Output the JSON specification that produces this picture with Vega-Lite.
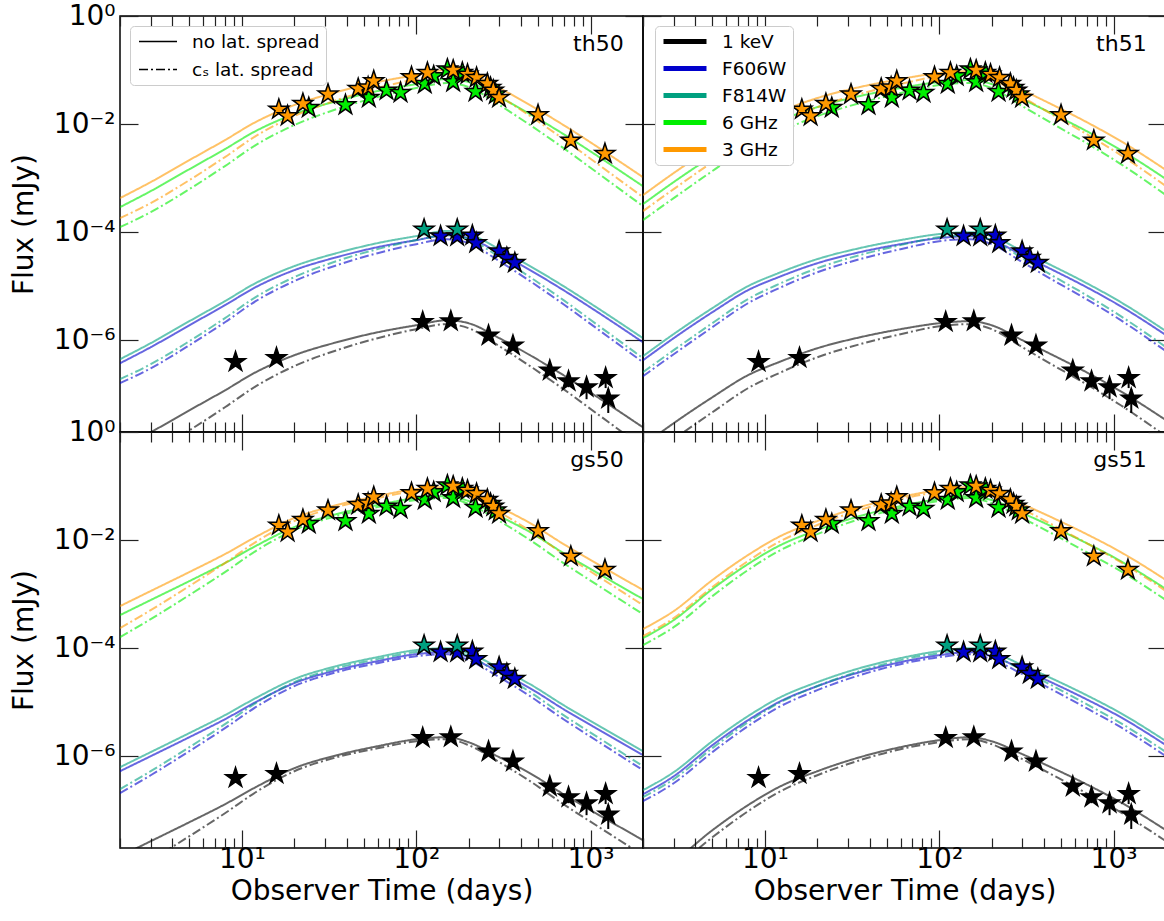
{
"$schema":"https://vega.github.io/schema/vega-lite/v6.json",
"padding":{"left":9,"top":1,"right":0,"bottom":6},
"datasets":{
"th50":[
{"b":"3 GHz","s":"n","t":2,"f":4.26e-4},{"b":"3 GHz","s":"n","t":3,"f":8.43e-4},{"b":"3 GHz","s":"n","t":5,"f":2.15e-3},{"b":"3 GHz","s":"n","t":8,"f":5.05e-3},{"b":"3 GHz","s":"n","t":12,"f":1.09e-2},{"b":"3 GHz","s":"n","t":20,"f":2.25e-2},{"b":"3 GHz","s":"n","t":35,"f":3.91e-2},{"b":"3 GHz","s":"n","t":60,"f":5.99e-2},{"b":"3 GHz","s":"n","t":100,"f":8.08e-2},{"b":"3 GHz","s":"n","t":150,"f":1.00e-1},{"b":"3 GHz","s":"n","t":200,"f":8.80e-2},{"b":"3 GHz","s":"n","t":300,"f":4.64e-2},{"b":"3 GHz","s":"n","t":450,"f":2.25e-2},{"b":"3 GHz","s":"n","t":700,"f":9.58e-3},{"b":"3 GHz","s":"n","t":1100,"f":3.75e-3},{"b":"3 GHz","s":"n","t":2000,"f":1.04e-3},
{"b":"6 GHz","s":"n","t":2,"f":2.90e-4},{"b":"6 GHz","s":"n","t":3,"f":5.74e-4},{"b":"6 GHz","s":"n","t":5,"f":1.46e-3},{"b":"6 GHz","s":"n","t":8,"f":3.44e-3},{"b":"6 GHz","s":"n","t":12,"f":7.42e-3},{"b":"6 GHz","s":"n","t":20,"f":1.53e-2},{"b":"6 GHz","s":"n","t":35,"f":2.66e-2},{"b":"6 GHz","s":"n","t":60,"f":4.08e-2},{"b":"6 GHz","s":"n","t":100,"f":5.50e-2},{"b":"6 GHz","s":"n","t":150,"f":6.81e-2},{"b":"6 GHz","s":"n","t":200,"f":5.99e-2},{"b":"6 GHz","s":"n","t":300,"f":3.16e-2},{"b":"6 GHz","s":"n","t":450,"f":1.53e-2},{"b":"6 GHz","s":"n","t":700,"f":6.52e-3},{"b":"6 GHz","s":"n","t":1100,"f":2.55e-3},{"b":"6 GHz","s":"n","t":2000,"f":7.08e-4},
{"b":"F814W","s":"n","t":2,"f":4.45e-7},{"b":"F814W","s":"n","t":3,"f":8.81e-7},{"b":"F814W","s":"n","t":5,"f":2.25e-6},{"b":"F814W","s":"n","t":8,"f":5.28e-6},{"b":"F814W","s":"n","t":12,"f":1.14e-5},{"b":"F814W","s":"n","t":20,"f":2.35e-5},{"b":"F814W","s":"n","t":35,"f":4.09e-5},{"b":"F814W","s":"n","t":60,"f":6.26e-5},{"b":"F814W","s":"n","t":100,"f":8.44e-5},{"b":"F814W","s":"n","t":150,"f":1.05e-4},{"b":"F814W","s":"n","t":200,"f":9.20e-5},{"b":"F814W","s":"n","t":300,"f":4.85e-5},{"b":"F814W","s":"n","t":450,"f":2.35e-5},{"b":"F814W","s":"n","t":700,"f":1.00e-5},{"b":"F814W","s":"n","t":1100,"f":3.92e-6},{"b":"F814W","s":"n","t":2000,"f":1.09e-6},
{"b":"F606W","s":"n","t":2,"f":3.74e-7},{"b":"F606W","s":"n","t":3,"f":7.41e-7},{"b":"F606W","s":"n","t":5,"f":1.89e-6},{"b":"F606W","s":"n","t":8,"f":4.44e-6},{"b":"F606W","s":"n","t":12,"f":9.58e-6},{"b":"F606W","s":"n","t":20,"f":1.98e-5},{"b":"F606W","s":"n","t":35,"f":3.44e-5},{"b":"F606W","s":"n","t":60,"f":5.27e-5},{"b":"F606W","s":"n","t":100,"f":7.10e-5},{"b":"F606W","s":"n","t":150,"f":8.79e-5},{"b":"F606W","s":"n","t":200,"f":7.74e-5},{"b":"F606W","s":"n","t":300,"f":4.08e-5},{"b":"F606W","s":"n","t":450,"f":1.98e-5},{"b":"F606W","s":"n","t":700,"f":8.42e-6},{"b":"F606W","s":"n","t":1100,"f":3.30e-6},{"b":"F606W","s":"n","t":2000,"f":9.14e-7},
{"b":"1 keV","s":"n","t":2,"f":1.00e-8},{"b":"1 keV","s":"n","t":3,"f":1.98e-8},{"b":"1 keV","s":"n","t":5,"f":5.04e-8},{"b":"1 keV","s":"n","t":8,"f":1.18e-7},{"b":"1 keV","s":"n","t":12,"f":2.55e-7},{"b":"1 keV","s":"n","t":20,"f":5.27e-7},{"b":"1 keV","s":"n","t":35,"f":9.16e-7},{"b":"1 keV","s":"n","t":60,"f":1.40e-6},{"b":"1 keV","s":"n","t":100,"f":1.89e-6},{"b":"1 keV","s":"n","t":150,"f":2.34e-6},{"b":"1 keV","s":"n","t":200,"f":2.06e-6},{"b":"1 keV","s":"n","t":300,"f":1.09e-6},{"b":"1 keV","s":"n","t":450,"f":5.27e-7},{"b":"1 keV","s":"n","t":700,"f":2.25e-7},{"b":"1 keV","s":"n","t":1100,"f":8.79e-8},{"b":"1 keV","s":"n","t":2000,"f":2.44e-8},
{"b":"3 GHz","s":"c","t":2,"f":1.82e-4},{"b":"3 GHz","s":"c","t":3,"f":3.44e-4},{"b":"3 GHz","s":"c","t":5,"f":9.18e-4},{"b":"3 GHz","s":"c","t":8,"f":2.45e-3},{"b":"3 GHz","s":"c","t":12,"f":5.99e-3},{"b":"3 GHz","s":"c","t":20,"f":1.41e-2},{"b":"3 GHz","s":"c","t":35,"f":2.78e-2},{"b":"3 GHz","s":"c","t":60,"f":4.64e-2},{"b":"3 GHz","s":"c","t":100,"f":6.81e-2},{"b":"3 GHz","s":"c","t":150,"f":8.43e-2},{"b":"3 GHz","s":"c","t":200,"f":7.11e-2},{"b":"3 GHz","s":"c","t":300,"f":3.30e-2},{"b":"3 GHz","s":"c","t":450,"f":1.41e-2},{"b":"3 GHz","s":"c","t":700,"f":5.27e-3},{"b":"3 GHz","s":"c","t":1100,"f":1.82e-3},{"b":"3 GHz","s":"c","t":2000,"f":4.45e-4},
{"b":"6 GHz","s":"c","t":2,"f":1.24e-4},{"b":"6 GHz","s":"c","t":3,"f":2.34e-4},{"b":"6 GHz","s":"c","t":5,"f":6.25e-4},{"b":"6 GHz","s":"c","t":8,"f":1.67e-3},{"b":"6 GHz","s":"c","t":12,"f":4.08e-3},{"b":"6 GHz","s":"c","t":20,"f":9.60e-3},{"b":"6 GHz","s":"c","t":35,"f":1.89e-2},{"b":"6 GHz","s":"c","t":60,"f":3.16e-2},{"b":"6 GHz","s":"c","t":100,"f":4.64e-2},{"b":"6 GHz","s":"c","t":150,"f":5.74e-2},{"b":"6 GHz","s":"c","t":200,"f":4.84e-2},{"b":"6 GHz","s":"c","t":300,"f":2.25e-2},{"b":"6 GHz","s":"c","t":450,"f":9.60e-3},{"b":"6 GHz","s":"c","t":700,"f":3.59e-3},{"b":"6 GHz","s":"c","t":1100,"f":1.24e-3},{"b":"6 GHz","s":"c","t":2000,"f":3.03e-4},
{"b":"F814W","s":"c","t":2,"f":1.90e-7},{"b":"F814W","s":"c","t":3,"f":3.59e-7},{"b":"F814W","s":"c","t":5,"f":9.59e-7},{"b":"F814W","s":"c","t":8,"f":2.56e-6},{"b":"F814W","s":"c","t":12,"f":6.26e-6},{"b":"F814W","s":"c","t":20,"f":1.47e-5},{"b":"F814W","s":"c","t":35,"f":2.91e-5},{"b":"F814W","s":"c","t":60,"f":4.85e-5},{"b":"F814W","s":"c","t":100,"f":7.12e-5},{"b":"F814W","s":"c","t":150,"f":8.81e-5},{"b":"F814W","s":"c","t":200,"f":7.43e-5},{"b":"F814W","s":"c","t":300,"f":3.45e-5},{"b":"F814W","s":"c","t":450,"f":1.47e-5},{"b":"F814W","s":"c","t":700,"f":5.51e-6},{"b":"F814W","s":"c","t":1100,"f":1.90e-6},{"b":"F814W","s":"c","t":2000,"f":4.65e-7},
{"b":"F606W","s":"c","t":2,"f":1.60e-7},{"b":"F606W","s":"c","t":3,"f":3.02e-7},{"b":"F606W","s":"c","t":5,"f":8.07e-7},{"b":"F606W","s":"c","t":8,"f":2.15e-6},{"b":"F606W","s":"c","t":12,"f":5.27e-6},{"b":"F606W","s":"c","t":20,"f":1.24e-5},{"b":"F606W","s":"c","t":35,"f":2.44e-5},{"b":"F606W","s":"c","t":60,"f":4.08e-5},{"b":"F606W","s":"c","t":100,"f":5.99e-5},{"b":"F606W","s":"c","t":150,"f":7.41e-5},{"b":"F606W","s":"c","t":200,"f":6.25e-5},{"b":"F606W","s":"c","t":300,"f":2.90e-5},{"b":"F606W","s":"c","t":450,"f":1.24e-5},{"b":"F606W","s":"c","t":700,"f":4.63e-6},{"b":"F606W","s":"c","t":1100,"f":1.60e-6},{"b":"F606W","s":"c","t":2000,"f":3.91e-7},
{"b":"1 keV","s":"c","t":2,"f":4.27e-9},{"b":"1 keV","s":"c","t":3,"f":8.06e-9},{"b":"1 keV","s":"c","t":5,"f":2.15e-8},{"b":"1 keV","s":"c","t":8,"f":5.74e-8},{"b":"1 keV","s":"c","t":12,"f":1.40e-7},{"b":"1 keV","s":"c","t":20,"f":3.31e-7},{"b":"1 keV","s":"c","t":35,"f":6.52e-7},{"b":"1 keV","s":"c","t":60,"f":1.09e-6},{"b":"1 keV","s":"c","t":100,"f":1.60e-6},{"b":"1 keV","s":"c","t":150,"f":1.98e-6},{"b":"1 keV","s":"c","t":200,"f":1.67e-6},{"b":"1 keV","s":"c","t":300,"f":7.74e-7},{"b":"1 keV","s":"c","t":450,"f":3.31e-7},{"b":"1 keV","s":"c","t":700,"f":1.24e-7},{"b":"1 keV","s":"c","t":1100,"f":4.27e-8},{"b":"1 keV","s":"c","t":2000,"f":1.04e-8}
],
"th51":[
{"b":"3 GHz","s":"n","t":2,"f":4.84e-4},{"b":"3 GHz","s":"n","t":3,"f":1.24e-3},{"b":"3 GHz","s":"n","t":5,"f":3.75e-3},{"b":"3 GHz","s":"n","t":8,"f":9.58e-3},{"b":"3 GHz","s":"n","t":12,"f":1.67e-2},{"b":"3 GHz","s":"n","t":20,"f":3.03e-2},{"b":"3 GHz","s":"n","t":35,"f":4.84e-2},{"b":"3 GHz","s":"n","t":60,"f":6.81e-2},{"b":"3 GHz","s":"n","t":100,"f":8.80e-2},{"b":"3 GHz","s":"n","t":150,"f":9.58e-2},{"b":"3 GHz","s":"n","t":200,"f":8.08e-2},{"b":"3 GHz","s":"n","t":300,"f":4.26e-2},{"b":"3 GHz","s":"n","t":450,"f":2.25e-2},{"b":"3 GHz","s":"n","t":700,"f":1.09e-2},{"b":"3 GHz","s":"n","t":1100,"f":4.84e-3},{"b":"3 GHz","s":"n","t":2000,"f":1.41e-3},
{"b":"6 GHz","s":"n","t":2,"f":3.30e-4},{"b":"6 GHz","s":"n","t":3,"f":8.44e-4},{"b":"6 GHz","s":"n","t":5,"f":2.55e-3},{"b":"6 GHz","s":"n","t":8,"f":6.52e-3},{"b":"6 GHz","s":"n","t":12,"f":1.14e-2},{"b":"6 GHz","s":"n","t":20,"f":2.06e-2},{"b":"6 GHz","s":"n","t":35,"f":3.30e-2},{"b":"6 GHz","s":"n","t":60,"f":4.64e-2},{"b":"6 GHz","s":"n","t":100,"f":5.99e-2},{"b":"6 GHz","s":"n","t":150,"f":6.52e-2},{"b":"6 GHz","s":"n","t":200,"f":5.50e-2},{"b":"6 GHz","s":"n","t":300,"f":2.90e-2},{"b":"6 GHz","s":"n","t":450,"f":1.53e-2},{"b":"6 GHz","s":"n","t":700,"f":7.42e-3},{"b":"6 GHz","s":"n","t":1100,"f":3.30e-3},{"b":"6 GHz","s":"n","t":2000,"f":9.60e-4},
{"b":"F814W","s":"n","t":2,"f":5.06e-7},{"b":"F814W","s":"n","t":3,"f":1.30e-6},{"b":"F814W","s":"n","t":5,"f":3.92e-6},{"b":"F814W","s":"n","t":8,"f":1.00e-5},{"b":"F814W","s":"n","t":12,"f":1.75e-5},{"b":"F814W","s":"n","t":20,"f":3.17e-5},{"b":"F814W","s":"n","t":35,"f":5.06e-5},{"b":"F814W","s":"n","t":60,"f":7.12e-5},{"b":"F814W","s":"n","t":100,"f":9.20e-5},{"b":"F814W","s":"n","t":150,"f":1.00e-4},{"b":"F814W","s":"n","t":200,"f":8.44e-5},{"b":"F814W","s":"n","t":300,"f":4.45e-5},{"b":"F814W","s":"n","t":450,"f":2.35e-5},{"b":"F814W","s":"n","t":700,"f":1.14e-5},{"b":"F814W","s":"n","t":1100,"f":5.06e-6},{"b":"F814W","s":"n","t":2000,"f":1.47e-6},
{"b":"F606W","s":"n","t":2,"f":4.25e-7},{"b":"F606W","s":"n","t":3,"f":1.09e-6},{"b":"F606W","s":"n","t":5,"f":3.30e-6},{"b":"F606W","s":"n","t":8,"f":8.42e-6},{"b":"F606W","s":"n","t":12,"f":1.47e-5},{"b":"F606W","s":"n","t":20,"f":2.66e-5},{"b":"F606W","s":"n","t":35,"f":4.25e-5},{"b":"F606W","s":"n","t":60,"f":5.99e-5},{"b":"F606W","s":"n","t":100,"f":7.74e-5},{"b":"F606W","s":"n","t":150,"f":8.42e-5},{"b":"F606W","s":"n","t":200,"f":7.10e-5},{"b":"F606W","s":"n","t":300,"f":3.74e-5},{"b":"F606W","s":"n","t":450,"f":1.98e-5},{"b":"F606W","s":"n","t":700,"f":9.58e-6},{"b":"F606W","s":"n","t":1100,"f":4.25e-6},{"b":"F606W","s":"n","t":2000,"f":1.24e-6},
{"b":"1 keV","s":"n","t":2,"f":1.13e-8},{"b":"1 keV","s":"n","t":3,"f":2.91e-8},{"b":"1 keV","s":"n","t":5,"f":8.79e-8},{"b":"1 keV","s":"n","t":8,"f":2.25e-7},{"b":"1 keV","s":"n","t":12,"f":3.91e-7},{"b":"1 keV","s":"n","t":20,"f":7.10e-7},{"b":"1 keV","s":"n","t":35,"f":1.13e-6},{"b":"1 keV","s":"n","t":60,"f":1.60e-6},{"b":"1 keV","s":"n","t":100,"f":2.06e-6},{"b":"1 keV","s":"n","t":150,"f":2.25e-6},{"b":"1 keV","s":"n","t":200,"f":1.89e-6},{"b":"1 keV","s":"n","t":300,"f":1.00e-6},{"b":"1 keV","s":"n","t":450,"f":5.27e-7},{"b":"1 keV","s":"n","t":700,"f":2.55e-7},{"b":"1 keV","s":"n","t":1100,"f":1.13e-7},{"b":"1 keV","s":"n","t":2000,"f":3.31e-8},
{"b":"3 GHz","s":"c","t":2,"f":2.45e-4},{"b":"3 GHz","s":"c","t":3,"f":6.26e-4},{"b":"3 GHz","s":"c","t":5,"f":1.98e-3},{"b":"3 GHz","s":"c","t":8,"f":5.50e-3},{"b":"3 GHz","s":"c","t":12,"f":1.04e-2},{"b":"3 GHz","s":"c","t":20,"f":2.06e-2},{"b":"3 GHz","s":"c","t":35,"f":3.59e-2},{"b":"3 GHz","s":"c","t":60,"f":5.50e-2},{"b":"3 GHz","s":"c","t":100,"f":7.74e-2},{"b":"3 GHz","s":"c","t":150,"f":8.43e-2},{"b":"3 GHz","s":"c","t":200,"f":6.81e-2},{"b":"3 GHz","s":"c","t":300,"f":3.16e-2},{"b":"3 GHz","s":"c","t":450,"f":1.47e-2},{"b":"3 GHz","s":"c","t":700,"f":6.53e-3},{"b":"3 GHz","s":"c","t":1100,"f":2.67e-3},{"b":"3 GHz","s":"c","t":2000,"f":7.11e-4},
{"b":"6 GHz","s":"c","t":2,"f":1.67e-4},{"b":"6 GHz","s":"c","t":3,"f":4.26e-4},{"b":"6 GHz","s":"c","t":5,"f":1.35e-3},{"b":"6 GHz","s":"c","t":8,"f":3.75e-3},{"b":"6 GHz","s":"c","t":12,"f":7.08e-3},{"b":"6 GHz","s":"c","t":20,"f":1.40e-2},{"b":"6 GHz","s":"c","t":35,"f":2.44e-2},{"b":"6 GHz","s":"c","t":60,"f":3.75e-2},{"b":"6 GHz","s":"c","t":100,"f":5.27e-2},{"b":"6 GHz","s":"c","t":150,"f":5.74e-2},{"b":"6 GHz","s":"c","t":200,"f":4.64e-2},{"b":"6 GHz","s":"c","t":300,"f":2.15e-2},{"b":"6 GHz","s":"c","t":450,"f":1.00e-2},{"b":"6 GHz","s":"c","t":700,"f":4.45e-3},{"b":"6 GHz","s":"c","t":1100,"f":1.82e-3},{"b":"6 GHz","s":"c","t":2000,"f":4.84e-4},
{"b":"F814W","s":"c","t":2,"f":2.56e-7},{"b":"F814W","s":"c","t":3,"f":6.54e-7},{"b":"F814W","s":"c","t":5,"f":2.07e-6},{"b":"F814W","s":"c","t":8,"f":5.75e-6},{"b":"F814W","s":"c","t":12,"f":1.09e-5},{"b":"F814W","s":"c","t":20,"f":2.15e-5},{"b":"F814W","s":"c","t":35,"f":3.75e-5},{"b":"F814W","s":"c","t":60,"f":5.75e-5},{"b":"F814W","s":"c","t":100,"f":8.09e-5},{"b":"F814W","s":"c","t":150,"f":8.81e-5},{"b":"F814W","s":"c","t":200,"f":7.12e-5},{"b":"F814W","s":"c","t":300,"f":3.30e-5},{"b":"F814W","s":"c","t":450,"f":1.54e-5},{"b":"F814W","s":"c","t":700,"f":6.82e-6},{"b":"F814W","s":"c","t":1100,"f":2.79e-6},{"b":"F814W","s":"c","t":2000,"f":7.43e-7},
{"b":"F606W","s":"c","t":2,"f":2.15e-7},{"b":"F606W","s":"c","t":3,"f":5.50e-7},{"b":"F606W","s":"c","t":5,"f":1.74e-6},{"b":"F606W","s":"c","t":8,"f":4.83e-6},{"b":"F606W","s":"c","t":12,"f":9.14e-6},{"b":"F606W","s":"c","t":20,"f":1.81e-5},{"b":"F606W","s":"c","t":35,"f":3.16e-5},{"b":"F606W","s":"c","t":60,"f":4.83e-5},{"b":"F606W","s":"c","t":100,"f":6.80e-5},{"b":"F606W","s":"c","t":150,"f":7.41e-5},{"b":"F606W","s":"c","t":200,"f":5.99e-5},{"b":"F606W","s":"c","t":300,"f":2.78e-5},{"b":"F606W","s":"c","t":450,"f":1.29e-5},{"b":"F606W","s":"c","t":700,"f":5.74e-6},{"b":"F606W","s":"c","t":1100,"f":2.35e-6},{"b":"F606W","s":"c","t":2000,"f":6.25e-7},
{"b":"1 keV","s":"c","t":2,"f":5.74e-9},{"b":"1 keV","s":"c","t":3,"f":1.47e-8},{"b":"1 keV","s":"c","t":5,"f":4.64e-8},{"b":"1 keV","s":"c","t":8,"f":1.29e-7},{"b":"1 keV","s":"c","t":12,"f":2.44e-7},{"b":"1 keV","s":"c","t":20,"f":4.83e-7},{"b":"1 keV","s":"c","t":35,"f":8.41e-7},{"b":"1 keV","s":"c","t":60,"f":1.29e-6},{"b":"1 keV","s":"c","t":100,"f":1.81e-6},{"b":"1 keV","s":"c","t":150,"f":1.98e-6},{"b":"1 keV","s":"c","t":200,"f":1.60e-6},{"b":"1 keV","s":"c","t":300,"f":7.41e-7},{"b":"1 keV","s":"c","t":450,"f":3.45e-7},{"b":"1 keV","s":"c","t":700,"f":1.53e-7},{"b":"1 keV","s":"c","t":1100,"f":6.26e-8},{"b":"1 keV","s":"c","t":2000,"f":1.67e-8}
],
"gs50":[
{"b":"3 GHz","s":"n","t":2,"f":5.99e-4},{"b":"3 GHz","s":"n","t":3,"f":1.14e-3},{"b":"3 GHz","s":"n","t":5,"f":2.56e-3},{"b":"3 GHz","s":"n","t":8,"f":5.50e-3},{"b":"3 GHz","s":"n","t":12,"f":1.14e-2},{"b":"3 GHz","s":"n","t":20,"f":2.56e-2},{"b":"3 GHz","s":"n","t":35,"f":4.45e-2},{"b":"3 GHz","s":"n","t":60,"f":6.53e-2},{"b":"3 GHz","s":"n","t":100,"f":8.80e-2},{"b":"3 GHz","s":"n","t":150,"f":9.58e-2},{"b":"3 GHz","s":"n","t":200,"f":7.74e-2},{"b":"3 GHz","s":"n","t":300,"f":4.08e-2},{"b":"3 GHz","s":"n","t":450,"f":2.06e-2},{"b":"3 GHz","s":"n","t":700,"f":8.43e-3},{"b":"3 GHz","s":"n","t":1100,"f":3.59e-3},{"b":"3 GHz","s":"n","t":2000,"f":1.19e-3},
{"b":"6 GHz","s":"n","t":2,"f":4.08e-4},{"b":"6 GHz","s":"n","t":3,"f":7.76e-4},{"b":"6 GHz","s":"n","t":5,"f":1.74e-3},{"b":"6 GHz","s":"n","t":8,"f":3.75e-3},{"b":"6 GHz","s":"n","t":12,"f":7.76e-3},{"b":"6 GHz","s":"n","t":20,"f":1.74e-2},{"b":"6 GHz","s":"n","t":35,"f":3.03e-2},{"b":"6 GHz","s":"n","t":60,"f":4.45e-2},{"b":"6 GHz","s":"n","t":100,"f":5.99e-2},{"b":"6 GHz","s":"n","t":150,"f":6.52e-2},{"b":"6 GHz","s":"n","t":200,"f":5.27e-2},{"b":"6 GHz","s":"n","t":300,"f":2.78e-2},{"b":"6 GHz","s":"n","t":450,"f":1.40e-2},{"b":"6 GHz","s":"n","t":700,"f":5.74e-3},{"b":"6 GHz","s":"n","t":1100,"f":2.44e-3},{"b":"6 GHz","s":"n","t":2000,"f":8.10e-4},
{"b":"F814W","s":"n","t":2,"f":6.26e-7},{"b":"F814W","s":"n","t":3,"f":1.19e-6},{"b":"F814W","s":"n","t":5,"f":2.68e-6},{"b":"F814W","s":"n","t":8,"f":5.75e-6},{"b":"F814W","s":"n","t":12,"f":1.19e-5},{"b":"F814W","s":"n","t":20,"f":2.68e-5},{"b":"F814W","s":"n","t":35,"f":4.65e-5},{"b":"F814W","s":"n","t":60,"f":6.82e-5},{"b":"F814W","s":"n","t":100,"f":9.20e-5},{"b":"F814W","s":"n","t":150,"f":1.00e-4},{"b":"F814W","s":"n","t":200,"f":8.09e-5},{"b":"F814W","s":"n","t":300,"f":4.26e-5},{"b":"F814W","s":"n","t":450,"f":2.15e-5},{"b":"F814W","s":"n","t":700,"f":8.81e-6},{"b":"F814W","s":"n","t":1100,"f":3.75e-6},{"b":"F814W","s":"n","t":2000,"f":1.24e-6},
{"b":"F606W","s":"n","t":2,"f":5.27e-7},{"b":"F606W","s":"n","t":3,"f":1.00e-6},{"b":"F606W","s":"n","t":5,"f":2.25e-6},{"b":"F606W","s":"n","t":8,"f":4.83e-6},{"b":"F606W","s":"n","t":12,"f":1.00e-5},{"b":"F606W","s":"n","t":20,"f":2.25e-5},{"b":"F606W","s":"n","t":35,"f":3.91e-5},{"b":"F606W","s":"n","t":60,"f":5.74e-5},{"b":"F606W","s":"n","t":100,"f":7.74e-5},{"b":"F606W","s":"n","t":150,"f":8.42e-5},{"b":"F606W","s":"n","t":200,"f":6.80e-5},{"b":"F606W","s":"n","t":300,"f":3.59e-5},{"b":"F606W","s":"n","t":450,"f":1.81e-5},{"b":"F606W","s":"n","t":700,"f":7.41e-6},{"b":"F606W","s":"n","t":1100,"f":3.16e-6},{"b":"F606W","s":"n","t":2000,"f":1.05e-6},
{"b":"1 keV","s":"n","t":2,"f":1.40e-8},{"b":"1 keV","s":"n","t":3,"f":2.67e-8},{"b":"1 keV","s":"n","t":5,"f":6.00e-8},{"b":"1 keV","s":"n","t":8,"f":1.29e-7},{"b":"1 keV","s":"n","t":12,"f":2.67e-7},{"b":"1 keV","s":"n","t":20,"f":6.00e-7},{"b":"1 keV","s":"n","t":35,"f":1.04e-6},{"b":"1 keV","s":"n","t":60,"f":1.53e-6},{"b":"1 keV","s":"n","t":100,"f":2.06e-6},{"b":"1 keV","s":"n","t":150,"f":2.25e-6},{"b":"1 keV","s":"n","t":200,"f":1.81e-6},{"b":"1 keV","s":"n","t":300,"f":9.56e-7},{"b":"1 keV","s":"n","t":450,"f":4.83e-7},{"b":"1 keV","s":"n","t":700,"f":1.98e-7},{"b":"1 keV","s":"n","t":1100,"f":8.41e-8},{"b":"1 keV","s":"n","t":2000,"f":2.79e-8},
{"b":"3 GHz","s":"c","t":2,"f":2.35e-4},{"b":"3 GHz","s":"c","t":3,"f":5.05e-4},{"b":"3 GHz","s":"c","t":5,"f":1.41e-3},{"b":"3 GHz","s":"c","t":8,"f":3.75e-3},{"b":"3 GHz","s":"c","t":12,"f":9.18e-3},{"b":"3 GHz","s":"c","t":20,"f":2.25e-2},{"b":"3 GHz","s":"c","t":35,"f":4.08e-2},{"b":"3 GHz","s":"c","t":60,"f":5.99e-2},{"b":"3 GHz","s":"c","t":100,"f":8.08e-2},{"b":"3 GHz","s":"c","t":150,"f":8.80e-2},{"b":"3 GHz","s":"c","t":200,"f":6.81e-2},{"b":"3 GHz","s":"c","t":300,"f":3.30e-2},{"b":"3 GHz","s":"c","t":450,"f":1.47e-2},{"b":"3 GHz","s":"c","t":700,"f":5.50e-3},{"b":"3 GHz","s":"c","t":1100,"f":2.15e-3},{"b":"3 GHz","s":"c","t":2000,"f":6.26e-4},
{"b":"6 GHz","s":"c","t":2,"f":1.60e-4},{"b":"6 GHz","s":"c","t":3,"f":3.44e-4},{"b":"6 GHz","s":"c","t":5,"f":9.60e-4},{"b":"6 GHz","s":"c","t":8,"f":2.55e-3},{"b":"6 GHz","s":"c","t":12,"f":6.25e-3},{"b":"6 GHz","s":"c","t":20,"f":1.53e-2},{"b":"6 GHz","s":"c","t":35,"f":2.78e-2},{"b":"6 GHz","s":"c","t":60,"f":4.08e-2},{"b":"6 GHz","s":"c","t":100,"f":5.50e-2},{"b":"6 GHz","s":"c","t":150,"f":5.99e-2},{"b":"6 GHz","s":"c","t":200,"f":4.64e-2},{"b":"6 GHz","s":"c","t":300,"f":2.25e-2},{"b":"6 GHz","s":"c","t":450,"f":1.00e-2},{"b":"6 GHz","s":"c","t":700,"f":3.75e-3},{"b":"6 GHz","s":"c","t":1100,"f":1.46e-3},{"b":"6 GHz","s":"c","t":2000,"f":4.26e-4},
{"b":"F814W","s":"c","t":2,"f":2.46e-7},{"b":"F814W","s":"c","t":3,"f":5.28e-7},{"b":"F814W","s":"c","t":5,"f":1.47e-6},{"b":"F814W","s":"c","t":8,"f":3.92e-6},{"b":"F814W","s":"c","t":12,"f":9.59e-6},{"b":"F814W","s":"c","t":20,"f":2.35e-5},{"b":"F814W","s":"c","t":35,"f":4.26e-5},{"b":"F814W","s":"c","t":60,"f":6.26e-5},{"b":"F814W","s":"c","t":100,"f":8.44e-5},{"b":"F814W","s":"c","t":150,"f":9.20e-5},{"b":"F814W","s":"c","t":200,"f":7.12e-5},{"b":"F814W","s":"c","t":300,"f":3.45e-5},{"b":"F814W","s":"c","t":450,"f":1.54e-5},{"b":"F814W","s":"c","t":700,"f":5.75e-6},{"b":"F814W","s":"c","t":1100,"f":2.25e-6},{"b":"F814W","s":"c","t":2000,"f":6.54e-7},
{"b":"F606W","s":"c","t":2,"f":2.07e-7},{"b":"F606W","s":"c","t":3,"f":4.44e-7},{"b":"F606W","s":"c","t":5,"f":1.24e-6},{"b":"F606W","s":"c","t":8,"f":3.30e-6},{"b":"F606W","s":"c","t":12,"f":8.07e-6},{"b":"F606W","s":"c","t":20,"f":1.98e-5},{"b":"F606W","s":"c","t":35,"f":3.59e-5},{"b":"F606W","s":"c","t":60,"f":5.27e-5},{"b":"F606W","s":"c","t":100,"f":7.10e-5},{"b":"F606W","s":"c","t":150,"f":7.74e-5},{"b":"F606W","s":"c","t":200,"f":5.99e-5},{"b":"F606W","s":"c","t":300,"f":2.90e-5},{"b":"F606W","s":"c","t":450,"f":1.29e-5},{"b":"F606W","s":"c","t":700,"f":4.83e-6},{"b":"F606W","s":"c","t":1100,"f":1.89e-6},{"b":"F606W","s":"c","t":2000,"f":5.50e-7},
{"b":"1 keV","s":"c","t":2,"f":5.51e-9},{"b":"1 keV","s":"c","t":3,"f":1.18e-8},{"b":"1 keV","s":"c","t":5,"f":3.31e-8},{"b":"1 keV","s":"c","t":8,"f":8.79e-8},{"b":"1 keV","s":"c","t":12,"f":2.15e-7},{"b":"1 keV","s":"c","t":20,"f":5.27e-7},{"b":"1 keV","s":"c","t":35,"f":9.56e-7},{"b":"1 keV","s":"c","t":60,"f":1.40e-6},{"b":"1 keV","s":"c","t":100,"f":1.89e-6},{"b":"1 keV","s":"c","t":150,"f":2.06e-6},{"b":"1 keV","s":"c","t":200,"f":1.60e-6},{"b":"1 keV","s":"c","t":300,"f":7.74e-7},{"b":"1 keV","s":"c","t":450,"f":3.45e-7},{"b":"1 keV","s":"c","t":700,"f":1.29e-7},{"b":"1 keV","s":"c","t":1100,"f":5.04e-8},{"b":"1 keV","s":"c","t":2000,"f":1.47e-8}
],
"gs51":[
{"b":"3 GHz","s":"n","t":2,"f":2.25e-4},{"b":"3 GHz","s":"n","t":3,"f":4.84e-4},{"b":"3 GHz","s":"n","t":5,"f":1.82e-3},{"b":"3 GHz","s":"n","t":8,"f":5.27e-3},{"b":"3 GHz","s":"n","t":12,"f":1.14e-2},{"b":"3 GHz","s":"n","t":20,"f":2.25e-2},{"b":"3 GHz","s":"n","t":35,"f":4.08e-2},{"b":"3 GHz","s":"n","t":60,"f":6.26e-2},{"b":"3 GHz","s":"n","t":100,"f":8.43e-2},{"b":"3 GHz","s":"n","t":150,"f":9.58e-2},{"b":"3 GHz","s":"n","t":200,"f":8.08e-2},{"b":"3 GHz","s":"n","t":300,"f":4.64e-2},{"b":"3 GHz","s":"n","t":450,"f":2.56e-2},{"b":"3 GHz","s":"n","t":700,"f":1.29e-2},{"b":"3 GHz","s":"n","t":1100,"f":5.99e-3},{"b":"3 GHz","s":"n","t":2000,"f":1.82e-3},
{"b":"6 GHz","s":"n","t":2,"f":1.53e-4},{"b":"6 GHz","s":"n","t":3,"f":3.30e-4},{"b":"6 GHz","s":"n","t":5,"f":1.24e-3},{"b":"6 GHz","s":"n","t":8,"f":3.59e-3},{"b":"6 GHz","s":"n","t":12,"f":7.76e-3},{"b":"6 GHz","s":"n","t":20,"f":1.53e-2},{"b":"6 GHz","s":"n","t":35,"f":2.78e-2},{"b":"6 GHz","s":"n","t":60,"f":4.26e-2},{"b":"6 GHz","s":"n","t":100,"f":5.74e-2},{"b":"6 GHz","s":"n","t":150,"f":6.52e-2},{"b":"6 GHz","s":"n","t":200,"f":5.50e-2},{"b":"6 GHz","s":"n","t":300,"f":3.16e-2},{"b":"6 GHz","s":"n","t":450,"f":1.74e-2},{"b":"6 GHz","s":"n","t":700,"f":8.78e-3},{"b":"6 GHz","s":"n","t":1100,"f":4.08e-3},{"b":"6 GHz","s":"n","t":2000,"f":1.24e-3},
{"b":"F814W","s":"n","t":2,"f":2.35e-7},{"b":"F814W","s":"n","t":3,"f":5.06e-7},{"b":"F814W","s":"n","t":5,"f":1.90e-6},{"b":"F814W","s":"n","t":8,"f":5.51e-6},{"b":"F814W","s":"n","t":12,"f":1.19e-5},{"b":"F814W","s":"n","t":20,"f":2.35e-5},{"b":"F814W","s":"n","t":35,"f":4.26e-5},{"b":"F814W","s":"n","t":60,"f":6.54e-5},{"b":"F814W","s":"n","t":100,"f":8.81e-5},{"b":"F814W","s":"n","t":150,"f":1.00e-4},{"b":"F814W","s":"n","t":200,"f":8.44e-5},{"b":"F814W","s":"n","t":300,"f":4.85e-5},{"b":"F814W","s":"n","t":450,"f":2.68e-5},{"b":"F814W","s":"n","t":700,"f":1.35e-5},{"b":"F814W","s":"n","t":1100,"f":6.26e-6},{"b":"F814W","s":"n","t":2000,"f":1.90e-6},
{"b":"F606W","s":"n","t":2,"f":1.98e-7},{"b":"F606W","s":"n","t":3,"f":4.25e-7},{"b":"F606W","s":"n","t":5,"f":1.60e-6},{"b":"F606W","s":"n","t":8,"f":4.63e-6},{"b":"F606W","s":"n","t":12,"f":1.00e-5},{"b":"F606W","s":"n","t":20,"f":1.98e-5},{"b":"F606W","s":"n","t":35,"f":3.59e-5},{"b":"F606W","s":"n","t":60,"f":5.50e-5},{"b":"F606W","s":"n","t":100,"f":7.41e-5},{"b":"F606W","s":"n","t":150,"f":8.42e-5},{"b":"F606W","s":"n","t":200,"f":7.10e-5},{"b":"F606W","s":"n","t":300,"f":4.08e-5},{"b":"F606W","s":"n","t":450,"f":2.25e-5},{"b":"F606W","s":"n","t":700,"f":1.13e-5},{"b":"F606W","s":"n","t":1100,"f":5.27e-6},{"b":"F606W","s":"n","t":2000,"f":1.60e-6},
{"b":"1 keV","s":"n","t":2,"f":5.27e-9},{"b":"1 keV","s":"n","t":3,"f":1.13e-8},{"b":"1 keV","s":"n","t":5,"f":4.27e-8},{"b":"1 keV","s":"n","t":8,"f":1.24e-7},{"b":"1 keV","s":"n","t":12,"f":2.67e-7},{"b":"1 keV","s":"n","t":20,"f":5.27e-7},{"b":"1 keV","s":"n","t":35,"f":9.56e-7},{"b":"1 keV","s":"n","t":60,"f":1.47e-6},{"b":"1 keV","s":"n","t":100,"f":1.98e-6},{"b":"1 keV","s":"n","t":150,"f":2.25e-6},{"b":"1 keV","s":"n","t":200,"f":1.89e-6},{"b":"1 keV","s":"n","t":300,"f":1.09e-6},{"b":"1 keV","s":"n","t":450,"f":6.00e-7},{"b":"1 keV","s":"n","t":700,"f":3.02e-7},{"b":"1 keV","s":"n","t":1100,"f":1.40e-7},{"b":"1 keV","s":"n","t":2000,"f":4.27e-8},
{"b":"3 GHz","s":"c","t":2,"f":1.67e-4},{"b":"3 GHz","s":"c","t":3,"f":3.59e-4},{"b":"3 GHz","s":"c","t":5,"f":1.35e-3},{"b":"3 GHz","s":"c","t":8,"f":4.08e-3},{"b":"3 GHz","s":"c","t":12,"f":9.18e-3},{"b":"3 GHz","s":"c","t":20,"f":1.90e-2},{"b":"3 GHz","s":"c","t":35,"f":3.59e-2},{"b":"3 GHz","s":"c","t":60,"f":5.74e-2},{"b":"3 GHz","s":"c","t":100,"f":7.74e-2},{"b":"3 GHz","s":"c","t":150,"f":8.80e-2},{"b":"3 GHz","s":"c","t":200,"f":7.11e-2},{"b":"3 GHz","s":"c","t":300,"f":3.75e-2},{"b":"3 GHz","s":"c","t":450,"f":1.90e-2},{"b":"3 GHz","s":"c","t":700,"f":8.80e-3},{"b":"3 GHz","s":"c","t":1100,"f":3.91e-3},{"b":"3 GHz","s":"c","t":2000,"f":1.14e-3},
{"b":"6 GHz","s":"c","t":2,"f":1.14e-4},{"b":"6 GHz","s":"c","t":3,"f":2.44e-4},{"b":"6 GHz","s":"c","t":5,"f":9.19e-4},{"b":"6 GHz","s":"c","t":8,"f":2.78e-3},{"b":"6 GHz","s":"c","t":12,"f":6.25e-3},{"b":"6 GHz","s":"c","t":20,"f":1.29e-2},{"b":"6 GHz","s":"c","t":35,"f":2.44e-2},{"b":"6 GHz","s":"c","t":60,"f":3.91e-2},{"b":"6 GHz","s":"c","t":100,"f":5.27e-2},{"b":"6 GHz","s":"c","t":150,"f":5.99e-2},{"b":"6 GHz","s":"c","t":200,"f":4.84e-2},{"b":"6 GHz","s":"c","t":300,"f":2.55e-2},{"b":"6 GHz","s":"c","t":450,"f":1.29e-2},{"b":"6 GHz","s":"c","t":700,"f":5.99e-3},{"b":"6 GHz","s":"c","t":1100,"f":2.66e-3},{"b":"6 GHz","s":"c","t":2000,"f":7.76e-4},
{"b":"F814W","s":"c","t":2,"f":1.75e-7},{"b":"F814W","s":"c","t":3,"f":3.75e-7},{"b":"F814W","s":"c","t":5,"f":1.41e-6},{"b":"F814W","s":"c","t":8,"f":4.26e-6},{"b":"F814W","s":"c","t":12,"f":9.59e-6},{"b":"F814W","s":"c","t":20,"f":1.99e-5},{"b":"F814W","s":"c","t":35,"f":3.75e-5},{"b":"F814W","s":"c","t":60,"f":6.00e-5},{"b":"F814W","s":"c","t":100,"f":8.09e-5},{"b":"F814W","s":"c","t":150,"f":9.20e-5},{"b":"F814W","s":"c","t":200,"f":7.43e-5},{"b":"F814W","s":"c","t":300,"f":3.92e-5},{"b":"F814W","s":"c","t":450,"f":1.99e-5},{"b":"F814W","s":"c","t":700,"f":9.20e-6},{"b":"F814W","s":"c","t":1100,"f":4.09e-6},{"b":"F814W","s":"c","t":2000,"f":1.19e-6},
{"b":"F606W","s":"c","t":2,"f":1.47e-7},{"b":"F606W","s":"c","t":3,"f":3.16e-7},{"b":"F606W","s":"c","t":5,"f":1.19e-6},{"b":"F606W","s":"c","t":8,"f":3.59e-6},{"b":"F606W","s":"c","t":12,"f":8.07e-6},{"b":"F606W","s":"c","t":20,"f":1.67e-5},{"b":"F606W","s":"c","t":35,"f":3.16e-5},{"b":"F606W","s":"c","t":60,"f":5.05e-5},{"b":"F606W","s":"c","t":100,"f":6.80e-5},{"b":"F606W","s":"c","t":150,"f":7.74e-5},{"b":"F606W","s":"c","t":200,"f":6.25e-5},{"b":"F606W","s":"c","t":300,"f":3.30e-5},{"b":"F606W","s":"c","t":450,"f":1.67e-5},{"b":"F606W","s":"c","t":700,"f":7.74e-6},{"b":"F606W","s":"c","t":1100,"f":3.44e-6},{"b":"F606W","s":"c","t":2000,"f":1.00e-6},
{"b":"1 keV","s":"c","t":2,"f":3.91e-9},{"b":"1 keV","s":"c","t":3,"f":8.41e-9},{"b":"1 keV","s":"c","t":5,"f":3.16e-8},{"b":"1 keV","s":"c","t":8,"f":9.56e-8},{"b":"1 keV","s":"c","t":12,"f":2.15e-7},{"b":"1 keV","s":"c","t":20,"f":4.45e-7},{"b":"1 keV","s":"c","t":35,"f":8.41e-7},{"b":"1 keV","s":"c","t":60,"f":1.35e-6},{"b":"1 keV","s":"c","t":100,"f":1.81e-6},{"b":"1 keV","s":"c","t":150,"f":2.06e-6},{"b":"1 keV","s":"c","t":200,"f":1.67e-6},{"b":"1 keV","s":"c","t":300,"f":8.79e-7},{"b":"1 keV","s":"c","t":450,"f":4.45e-7},{"b":"1 keV","s":"c","t":700,"f":2.06e-7},{"b":"1 keV","s":"c","t":1100,"f":9.16e-8},{"b":"1 keV","s":"c","t":2000,"f":2.67e-8}
],
"obs":[
{"b":"1 keV","t":9.2,"f":3.97e-7},{"b":"1 keV","t":15.8,"f":4.7e-7},{"b":"1 keV","t":109,"f":2.18e-6},{"b":"1 keV","t":158,"f":2.25e-6},{"b":"1 keV","t":260,"f":1.22e-6},{"b":"1 keV","t":359,"f":7.97e-7},{"b":"1 keV","t":584,"f":2.75e-7},{"b":"1 keV","t":748,"f":1.74e-7},{"b":"1 keV","t":949,"f":1.35e-7},{"b":"1 keV","t":1221,"f":2.0e-7},{"b":"1 keV","t":1264,"f":8.3e-8},
{"b":"F606W","t":138,"f":8.43e-5},{"b":"F606W","t":172,"f":8.4e-5},{"b":"F606W","t":210,"f":8.7e-5},{"b":"F606W","t":221,"f":6.3e-5},{"b":"F606W","t":299,"f":4.45e-5},{"b":"F606W","t":331,"f":3.35e-5},{"b":"F606W","t":368,"f":2.7e-5},
{"b":"F814W","t":111,"f":1.12e-4},{"b":"F814W","t":172,"f":1.12e-4},
{"b":"6 GHz","t":24.2,"f":0.020},{"b":"6 GHz","t":39.3,"f":0.0225},{"b":"6 GHz","t":53.5,"f":0.0307},{"b":"6 GHz","t":67.6,"f":0.042},{"b":"6 GHz","t":81.3,"f":0.038},{"b":"6 GHz","t":112,"f":0.0557},{"b":"6 GHz","t":126,"f":0.0774},{"b":"6 GHz","t":151,"f":0.103},{"b":"6 GHz","t":163,"f":0.060},{"b":"6 GHz","t":184,"f":0.089},{"b":"6 GHz","t":219,"f":0.0397},{"b":"6 GHz","t":267,"f":0.047},{"b":"6 GHz","t":286,"f":0.0355},
{"b":"3 GHz","t":16.3,"f":0.0187},{"b":"3 GHz","t":18.3,"f":0.0141},{"b":"3 GHz","t":22.4,"f":0.0238},{"b":"3 GHz","t":31.2,"f":0.0355},{"b":"3 GHz","t":46.5,"f":0.045},{"b":"3 GHz","t":53,"f":0.048},{"b":"3 GHz","t":57.1,"f":0.0626},{"b":"3 GHz","t":94,"f":0.0742},{"b":"3 GHz","t":116,"f":0.089},{"b":"3 GHz","t":163,"f":0.0987},{"b":"3 GHz","t":197,"f":0.083},{"b":"3 GHz","t":222,"f":0.072},{"b":"3 GHz","t":256,"f":0.0558},{"b":"3 GHz","t":277,"f":0.042},{"b":"3 GHz","t":299,"f":0.0307},{"b":"3 GHz","t":500,"f":0.0147},{"b":"3 GHz","t":771,"f":0.00499},{"b":"3 GHz","t":1210,"f":0.00282}
],
"err":[
{"b":"1 keV","t":748,"lo":1.35e-7,"hi":2.1e-7},{"b":"1 keV","t":949,"lo":8.1e-8,"hi":1.9e-7},{"b":"1 keV","t":1221,"lo":1.3e-7,"hi":2.7e-7},{"b":"1 keV","t":1264,"lo":4.5e-8,"hi":1.25e-7},
{"b":"3 GHz","t":771,"lo":0.0040,"hi":0.0060},{"b":"3 GHz","t":1210,"lo":0.0022,"hi":0.0034}
]
},
"concat":[
{"width":523,"height":416,
"resolve":{"axis":{"x":"independent","y":"independent"}},
"layer":[
{"data":{"name":"th50"},"mark":{"type":"line","clip":true,"strokeWidth":2,"opacity":0.6,"interpolate":"monotone","color":"black"},
"encoding":{
"x":{"field":"t","type":"quantitative","scale":{"type":"log","domain":[2,2000],"nice":false},"axis":{"orient":"bottom","values":[10,100,1000],"tickSize":-18,"labels":false,"title":null}},
"y":{"field":"f","type":"quantitative","scale":{"type":"log","domain":[2e-8,1],"nice":false},"axis":{"orient":"left","values":[1,0.01,0.0001,0.000001],"tickSize":-18,"labelPadding":23,"labelExpr":"'10' + ['⁰','','⁻²','','⁻⁴','','⁻⁶'][round(-log(datum.value)/LN10)]","title":"Flux (mJy)","titlePadding":15}},
"color":{"field":"b","type":"nominal","scale":{"domain":["1 keV","F606W","F814W","6 GHz","3 GHz"],"range":["#000000","#0000cc","#00a080","#00ee00","#ff9900"]},"legend":null},
"strokeDash":{"field":"s","type":"nominal","scale":{"domain":["n","c"],"range":[[1,0],[9,3,2,3]]},"legend":{"orient":"none","legendX":10,"legendY":10,"title":null,"labelExpr":"datum.value == 'n' ? 'no lat. spread' : 'cₛ lat. spread'","symbolType":"stroke","symbolSize":1444,"symbolStrokeWidth":1.5,"symbolStrokeColor":"black","symbolOpacity":1,"symbolOffset":2,"clipHeight":19,"labelFontSize":18.5,"labelOffset":14,"padding":6,"rowPadding":9,"strokeColor":"#cccccc","fillColor":"white","cornerRadius":4}}
}},
{"data":{"name":"err"},"transform":[{"filter":"datum.b == '1 keV'"}],"mark":{"type":"rule","strokeWidth":2,"color":"black"},
"encoding":{
"x":{"field":"t","type":"quantitative","scale":{"type":"log","domain":[2,2000],"nice":false},"axis":{"orient":"bottom","values":[2,3,4,5,6,7,8,9,20,30,40,50,60,70,80,90,200,300,400,500,600,700,800,900,2000],"tickSize":-10,"labels":false,"title":null}},
"y":{"field":"lo","type":"quantitative","scale":{"type":"log","domain":[2e-8,1],"nice":false},"axis":{"orient":"right","values":[1,0.01,0.0001,0.000001],"tickSize":-18,"labels":false,"title":null}},
"y2":{"field":"hi"}}},
{"data":{"name":"err"},"transform":[{"filter":"datum.b == '3 GHz'"}],"mark":{"type":"rule","strokeWidth":1.5,"color":"black"},
"encoding":{
"x":{"field":"t","type":"quantitative","scale":{"type":"log","domain":[2,2000],"nice":false},"axis":{"orient":"top","values":[10,100,1000],"tickSize":-18,"labels":false,"title":null}},
"y":{"field":"lo","type":"quantitative","scale":{"type":"log","domain":[2e-8,1],"nice":false},"axis":null},
"y2":{"field":"hi"}}},
{"data":{"name":"obs"},"mark":{"type":"point","shape":"M0,-1L0.2245,-0.309L0.951,-0.309L0.3633,0.118L0.588,0.809L0,0.382L-0.588,0.809L-0.3633,0.118L-0.951,-0.309L-0.2245,-0.309Z","size":440,"filled":true,"stroke":"black","strokeWidth":1.5,"opacity":1},
"encoding":{
"x":{"field":"t","type":"quantitative","scale":{"type":"log","domain":[2,2000],"nice":false},"axis":{"orient":"top","values":[2,3,4,5,6,7,8,9,20,30,40,50,60,70,80,90,200,300,400,500,600,700,800,900,2000],"tickSize":-10,"labels":false,"title":null}},
"y":{"field":"f","type":"quantitative","scale":{"type":"log","domain":[2e-8,1],"nice":false},"axis":null},
"fill":{"field":"b","type":"nominal","scale":{"domain":["1 keV","F606W","F814W","6 GHz","3 GHz"],"range":["#000000","#0000cc","#00a080","#00ee00","#ff9900"]},"legend":null}}},
{"data":{"values":[{"panel":"th50"}]},"mark":{"type":"text","align":"right","baseline":"alphabetic","fontSize":22,"color":"black"},
"encoding":{
"x":{"datum":1550,"type":"quantitative","scale":{"type":"log","domain":[2,2000],"nice":false},"axis":null},
"y":{"datum":0.225,"type":"quantitative","scale":{"type":"log","domain":[2e-8,1],"nice":false},"axis":null},
"text":{"field":"panel"}}}
]},
{"width":523,"height":416,
"resolve":{"axis":{"x":"independent","y":"independent"}},
"layer":[
{"data":{"name":"th51"},"mark":{"type":"line","clip":true,"strokeWidth":2,"opacity":0.6,"interpolate":"monotone","color":"black"},
"encoding":{
"x":{"field":"t","type":"quantitative","scale":{"type":"log","domain":[2,2000],"nice":false},"axis":{"orient":"bottom","values":[10,100,1000],"tickSize":-18,"labels":false,"title":null}},
"y":{"field":"f","type":"quantitative","scale":{"type":"log","domain":[2e-8,1],"nice":false},"axis":{"orient":"left","values":[1,0.01,0.0001,0.000001],"tickSize":-18,"labels":false,"title":null}},
"color":{"field":"b","type":"nominal","scale":{"domain":["1 keV","F606W","F814W","6 GHz","3 GHz"],"range":["#000000","#0000cc","#00a080","#00ee00","#ff9900"]},"legend":{"orient":"none","legendX":12,"legendY":10,"title":null,"symbolType":"stroke","symbolSize":1849,"symbolStrokeWidth":5,"symbolOpacity":1,"symbolDash":[1,0],"symbolOffset":0,"clipHeight":19,"labelFontSize":18.5,"labelOffset":13,"padding":6,"rowPadding":8,"strokeColor":"#cccccc","fillColor":"white","cornerRadius":4}},
"strokeDash":{"field":"s","type":"nominal","scale":{"domain":["n","c"],"range":[[1,0],[9,3,2,3]]},"legend":null}
}},
{"data":{"name":"err"},"transform":[{"filter":"datum.b == '1 keV'"}],"mark":{"type":"rule","strokeWidth":2,"color":"black"},
"encoding":{
"x":{"field":"t","type":"quantitative","scale":{"type":"log","domain":[2,2000],"nice":false},"axis":{"orient":"bottom","values":[2,3,4,5,6,7,8,9,20,30,40,50,60,70,80,90,200,300,400,500,600,700,800,900,2000],"tickSize":-10,"labels":false,"title":null}},
"y":{"field":"lo","type":"quantitative","scale":{"type":"log","domain":[2e-8,1],"nice":false},"axis":{"orient":"right","values":[1,0.01,0.0001,0.000001],"tickSize":-18,"labels":false,"title":null}},
"y2":{"field":"hi"}}},
{"data":{"name":"err"},"transform":[{"filter":"datum.b == '3 GHz'"}],"mark":{"type":"rule","strokeWidth":1.5,"color":"black"},
"encoding":{
"x":{"field":"t","type":"quantitative","scale":{"type":"log","domain":[2,2000],"nice":false},"axis":{"orient":"top","values":[10,100,1000],"tickSize":-18,"labels":false,"title":null}},
"y":{"field":"lo","type":"quantitative","scale":{"type":"log","domain":[2e-8,1],"nice":false},"axis":null},
"y2":{"field":"hi"}}},
{"data":{"name":"obs"},"mark":{"type":"point","shape":"M0,-1L0.2245,-0.309L0.951,-0.309L0.3633,0.118L0.588,0.809L0,0.382L-0.588,0.809L-0.3633,0.118L-0.951,-0.309L-0.2245,-0.309Z","size":440,"filled":true,"stroke":"black","strokeWidth":1.5,"opacity":1},
"encoding":{
"x":{"field":"t","type":"quantitative","scale":{"type":"log","domain":[2,2000],"nice":false},"axis":{"orient":"top","values":[2,3,4,5,6,7,8,9,20,30,40,50,60,70,80,90,200,300,400,500,600,700,800,900,2000],"tickSize":-10,"labels":false,"title":null}},
"y":{"field":"f","type":"quantitative","scale":{"type":"log","domain":[2e-8,1],"nice":false},"axis":null},
"fill":{"field":"b","type":"nominal","scale":{"domain":["1 keV","F606W","F814W","6 GHz","3 GHz"],"range":["#000000","#0000cc","#00a080","#00ee00","#ff9900"]},"legend":null}}},
{"data":{"values":[{"panel":"th51"}]},"mark":{"type":"text","align":"right","baseline":"alphabetic","fontSize":22,"color":"black"},
"encoding":{
"x":{"datum":1550,"type":"quantitative","scale":{"type":"log","domain":[2,2000],"nice":false},"axis":null},
"y":{"datum":0.225,"type":"quantitative","scale":{"type":"log","domain":[2e-8,1],"nice":false},"axis":null},
"text":{"field":"panel"}}}
]},
{"width":523,"height":416,
"resolve":{"axis":{"x":"independent","y":"independent"}},
"layer":[
{"data":{"name":"gs50"},"mark":{"type":"line","clip":true,"strokeWidth":2,"opacity":0.6,"interpolate":"monotone","color":"black"},
"encoding":{
"x":{"field":"t","type":"quantitative","scale":{"type":"log","domain":[2,2000],"nice":false},"axis":{"orient":"bottom","values":[10,100,1000],"tickSize":-18,"labelPadding":15,"labelExpr":"'10' + ['⁰','¹','²','³'][round(log(datum.value)/LN10)]","title":"Observer Time (days)","titlePadding":4}},
"y":{"field":"f","type":"quantitative","scale":{"type":"log","domain":[2e-8,1],"nice":false},"axis":{"orient":"left","values":[1,0.01,0.0001,0.000001],"tickSize":-18,"labelPadding":23,"labelExpr":"'10' + ['⁰','','⁻²','','⁻⁴','','⁻⁶'][round(-log(datum.value)/LN10)]","title":"Flux (mJy)","titlePadding":15}},
"color":{"field":"b","type":"nominal","scale":{"domain":["1 keV","F606W","F814W","6 GHz","3 GHz"],"range":["#000000","#0000cc","#00a080","#00ee00","#ff9900"]},"legend":null},
"strokeDash":{"field":"s","type":"nominal","scale":{"domain":["n","c"],"range":[[1,0],[9,3,2,3]]},"legend":null}
}},
{"data":{"name":"err"},"transform":[{"filter":"datum.b == '1 keV'"}],"mark":{"type":"rule","strokeWidth":2,"color":"black"},
"encoding":{
"x":{"field":"t","type":"quantitative","scale":{"type":"log","domain":[2,2000],"nice":false},"axis":{"orient":"bottom","values":[2,3,4,5,6,7,8,9,20,30,40,50,60,70,80,90,200,300,400,500,600,700,800,900,2000],"tickSize":-10,"labels":false,"title":null}},
"y":{"field":"lo","type":"quantitative","scale":{"type":"log","domain":[2e-8,1],"nice":false},"axis":{"orient":"right","values":[1,0.01,0.0001,0.000001],"tickSize":-18,"labels":false,"title":null}},
"y2":{"field":"hi"}}},
{"data":{"name":"err"},"transform":[{"filter":"datum.b == '3 GHz'"}],"mark":{"type":"rule","strokeWidth":1.5,"color":"black"},
"encoding":{
"x":{"field":"t","type":"quantitative","scale":{"type":"log","domain":[2,2000],"nice":false},"axis":{"orient":"top","values":[10,100,1000],"tickSize":-18,"labels":false,"title":null}},
"y":{"field":"lo","type":"quantitative","scale":{"type":"log","domain":[2e-8,1],"nice":false},"axis":null},
"y2":{"field":"hi"}}},
{"data":{"name":"obs"},"mark":{"type":"point","shape":"M0,-1L0.2245,-0.309L0.951,-0.309L0.3633,0.118L0.588,0.809L0,0.382L-0.588,0.809L-0.3633,0.118L-0.951,-0.309L-0.2245,-0.309Z","size":440,"filled":true,"stroke":"black","strokeWidth":1.5,"opacity":1},
"encoding":{
"x":{"field":"t","type":"quantitative","scale":{"type":"log","domain":[2,2000],"nice":false},"axis":{"orient":"top","values":[2,3,4,5,6,7,8,9,20,30,40,50,60,70,80,90,200,300,400,500,600,700,800,900,2000],"tickSize":-10,"labels":false,"title":null}},
"y":{"field":"f","type":"quantitative","scale":{"type":"log","domain":[2e-8,1],"nice":false},"axis":null},
"fill":{"field":"b","type":"nominal","scale":{"domain":["1 keV","F606W","F814W","6 GHz","3 GHz"],"range":["#000000","#0000cc","#00a080","#00ee00","#ff9900"]},"legend":null}}},
{"data":{"values":[{"panel":"gs50"}]},"mark":{"type":"text","align":"right","baseline":"alphabetic","fontSize":22,"color":"black"},
"encoding":{
"x":{"datum":1550,"type":"quantitative","scale":{"type":"log","domain":[2,2000],"nice":false},"axis":null},
"y":{"datum":0.225,"type":"quantitative","scale":{"type":"log","domain":[2e-8,1],"nice":false},"axis":null},
"text":{"field":"panel"}}}
]},
{"width":523,"height":416,
"resolve":{"axis":{"x":"independent","y":"independent"}},
"layer":[
{"data":{"name":"gs51"},"mark":{"type":"line","clip":true,"strokeWidth":2,"opacity":0.6,"interpolate":"monotone","color":"black"},
"encoding":{
"x":{"field":"t","type":"quantitative","scale":{"type":"log","domain":[2,2000],"nice":false},"axis":{"orient":"bottom","values":[10,100,1000],"tickSize":-18,"labelPadding":15,"labelExpr":"'10' + ['⁰','¹','²','³'][round(log(datum.value)/LN10)]","title":"Observer Time (days)","titlePadding":4}},
"y":{"field":"f","type":"quantitative","scale":{"type":"log","domain":[2e-8,1],"nice":false},"axis":{"orient":"left","values":[1,0.01,0.0001,0.000001],"tickSize":-18,"labels":false,"title":null}},
"color":{"field":"b","type":"nominal","scale":{"domain":["1 keV","F606W","F814W","6 GHz","3 GHz"],"range":["#000000","#0000cc","#00a080","#00ee00","#ff9900"]},"legend":null},
"strokeDash":{"field":"s","type":"nominal","scale":{"domain":["n","c"],"range":[[1,0],[9,3,2,3]]},"legend":null}
}},
{"data":{"name":"err"},"transform":[{"filter":"datum.b == '1 keV'"}],"mark":{"type":"rule","strokeWidth":2,"color":"black"},
"encoding":{
"x":{"field":"t","type":"quantitative","scale":{"type":"log","domain":[2,2000],"nice":false},"axis":{"orient":"bottom","values":[2,3,4,5,6,7,8,9,20,30,40,50,60,70,80,90,200,300,400,500,600,700,800,900,2000],"tickSize":-10,"labels":false,"title":null}},
"y":{"field":"lo","type":"quantitative","scale":{"type":"log","domain":[2e-8,1],"nice":false},"axis":{"orient":"right","values":[1,0.01,0.0001,0.000001],"tickSize":-18,"labels":false,"title":null}},
"y2":{"field":"hi"}}},
{"data":{"name":"err"},"transform":[{"filter":"datum.b == '3 GHz'"}],"mark":{"type":"rule","strokeWidth":1.5,"color":"black"},
"encoding":{
"x":{"field":"t","type":"quantitative","scale":{"type":"log","domain":[2,2000],"nice":false},"axis":{"orient":"top","values":[10,100,1000],"tickSize":-18,"labels":false,"title":null}},
"y":{"field":"lo","type":"quantitative","scale":{"type":"log","domain":[2e-8,1],"nice":false},"axis":null},
"y2":{"field":"hi"}}},
{"data":{"name":"obs"},"mark":{"type":"point","shape":"M0,-1L0.2245,-0.309L0.951,-0.309L0.3633,0.118L0.588,0.809L0,0.382L-0.588,0.809L-0.3633,0.118L-0.951,-0.309L-0.2245,-0.309Z","size":440,"filled":true,"stroke":"black","strokeWidth":1.5,"opacity":1},
"encoding":{
"x":{"field":"t","type":"quantitative","scale":{"type":"log","domain":[2,2000],"nice":false},"axis":{"orient":"top","values":[2,3,4,5,6,7,8,9,20,30,40,50,60,70,80,90,200,300,400,500,600,700,800,900,2000],"tickSize":-10,"labels":false,"title":null}},
"y":{"field":"f","type":"quantitative","scale":{"type":"log","domain":[2e-8,1],"nice":false},"axis":null},
"fill":{"field":"b","type":"nominal","scale":{"domain":["1 keV","F606W","F814W","6 GHz","3 GHz"],"range":["#000000","#0000cc","#00a080","#00ee00","#ff9900"]},"legend":null}}},
{"data":{"values":[{"panel":"gs51"}]},"mark":{"type":"text","align":"right","baseline":"alphabetic","fontSize":22,"color":"black"},
"encoding":{
"x":{"datum":1550,"type":"quantitative","scale":{"type":"log","domain":[2,2000],"nice":false},"axis":null},
"y":{"datum":0.225,"type":"quantitative","scale":{"type":"log","domain":[2e-8,1],"nice":false},"axis":null},
"text":{"field":"panel"}}}
]}
],
"columns":2,
"spacing":0,
"bounds":"flush",
"resolve":{"scale":{"color":"independent","strokeDash":"independent","fill":"independent"},"legend":{"color":"independent","strokeDash":"independent","fill":"independent"}},
"config":{
"font":"DejaVu Sans",
"view":{"stroke":"black","strokeWidth":1.5},
"axis":{"domain":false,"grid":false,"tickColor":"#222222","tickWidth":1.2,"labelFont":"DejaVu Sans","labelFontSize":28,"labelColor":"black","titleFont":"DejaVu Sans","titleFontSize":28,"titleFontWeight":"normal","titleColor":"black","labelFlush":false},
"legend":{"labelFont":"DejaVu Sans","labelColor":"black"}
}
}
